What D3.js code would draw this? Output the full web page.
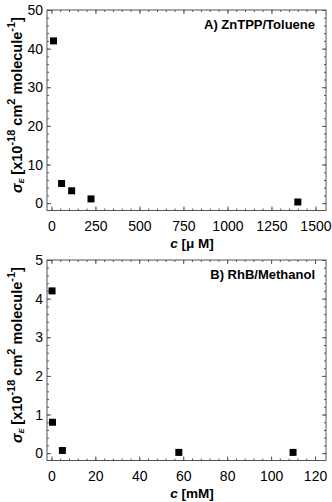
<!DOCTYPE html>
<html>
<head>
<meta charset="utf-8">
<script src="https://cdn.jsdelivr.net/npm/d3@7"></script>
<style>
  html, body { margin: 0; padding: 0; background: #fff; }
  svg text { font-family: "Liberation Sans", Arial, sans-serif; }
</style>
</head>
<body>
<svg id="chart" width="332" height="502"></svg>
<script>
// ── Data ─────────────────────────────────────────────────────────────────────
const titleA   = 'A) ZnTPP/Toluene';
const concA    = [12, 58, 115, 225, 1400];          // µM
const sigmaA   = [42, 5.1, 3.2, 1.1, 0.3];
const xTicksA  = [0, 250, 500, 750, 1000, 1250, 1500];
const yTicksA  = [0, 10, 20, 30, 40, 50];

const titleB   = 'B) RhB/Methanol';
const concB    = [0.3, 0.5, 5, 58, 110];            // mM
const sigmaB   = [4.2, 0.8, 0.07, 0.02, 0.02];
const xTicksB  = [0, 20, 40, 60, 80, 100, 120];
const yTicksB  = [0, 1, 2, 3, 4, 5];

// ── Layout ───────────────────────────────────────────────────────────────────
const svg   = d3.select('#chart');
const left  = 47, right = 326, plotH = 200.5;
const FRAME = '#555';

function drawPanel(cfg) {
  const top = cfg.top, bottom = top + plotH;
  const x = d3.scaleLinear().domain(cfg.xDomain).range([left, right]);
  const y = d3.scaleLinear().domain(cfg.yDomain).range([bottom, top]);
  const g = svg.append('g');

  // inward ticks on all four sides: major + minor
  const axes = [
    [d3.axisBottom(x), `translate(0,${bottom})`, cfg.xTicks, cfg.xMinor, 11],
    [d3.axisTop(x),    `translate(0,${top})`,    cfg.xTicks, cfg.xMinor, null],
    [d3.axisLeft(y),   `translate(${left},0)`,   cfg.yTicks, cfg.yMinor, 4],
    [d3.axisRight(y),  `translate(${right},0)`,  cfg.yTicks, cfg.yMinor, null],
  ];
  axes.forEach(([axis, tr, major, minor, pad]) => {
    g.append('g').attr('transform', tr)
      .call(axis.tickValues(minor).tickSizeInner(-2).tickSizeOuter(0).tickFormat(''))
      .call(s => s.select('.domain').remove())
      .selectAll('line').attr('stroke', FRAME);
    const ga = g.append('g').attr('transform', tr)
      .call(axis.tickValues(major).tickSizeInner(-4).tickSizeOuter(0)
        .tickPadding(pad || 0)
        .tickFormat(pad ? d3.format('d') : ''));
    ga.select('.domain').remove();
    ga.selectAll('line').attr('stroke', FRAME);
    ga.selectAll('text').attr('font-size', 14).attr('fill', '#000');
  });

  // frame
  g.append('rect')
    .attr('x', left).attr('y', top)
    .attr('width', right - left).attr('height', plotH)
    .attr('fill', 'none').attr('stroke', FRAME).attr('stroke-width', 1);

  // markers
  const sz = 7;
  g.append('g').selectAll('rect')
    .data(cfg.xs.map((v, i) => [v, cfg.ys[i]]))
    .join('rect')
      .attr('x', d => x(d[0]) - sz / 2)
      .attr('y', d => y(d[1]) - sz / 2)
      .attr('width', sz).attr('height', sz)
      .attr('fill', '#000');

  // panel title
  g.append('text')
    .attr('x', 315).attr('y', top + 19)
    .attr('text-anchor', 'end')
    .attr('font-size', 13).attr('font-weight', 'bold')
    .text(cfg.title);

  // x label
  const xl = g.append('text')
    .attr('x', 192).attr('y', bottom + 37)
    .attr('text-anchor', 'middle')
    .attr('font-size', 13.5).attr('font-weight', 'bold');
  xl.append('tspan').attr('font-style', 'italic').text('c');
  xl.append('tspan').text(' [' + cfg.unit + ']');

  // y label
  const yl = g.append('text')
    .attr('transform', `translate(22,${top + 95}) rotate(-90)`)
    .attr('text-anchor', 'middle')
    .attr('font-size', 14.5).attr('font-weight', 'bold');
  yl.append('tspan').attr('font-style', 'italic').text('σ');
  yl.append('tspan').attr('font-size', 7).attr('font-style', 'italic').attr('dy', 2).text('E');
  yl.append('tspan').attr('dy', -2).text(' [x10');
  yl.append('tspan').attr('font-size', 11).attr('dy', -7).text('-18');
  yl.append('tspan').attr('dy', 7).text(' cm');
  yl.append('tspan').attr('font-size', 11).attr('dy', -7).text('2');
  yl.append('tspan').attr('dy', 7).text('  molecule');
  yl.append('tspan').attr('font-size', 11).attr('dy', -7).text('-1');
  yl.append('tspan').attr('dy', 7).text(']');
}

drawPanel({
  top: 10, title: titleA, unit: 'μ M',
  xDomain: [-25, 1560], yDomain: [-1.9, 50],
  xTicks: xTicksA, yTicks: yTicksA,
  xMinor: d3.range(0, 1501, 50), yMinor: d3.range(0, 51, 2),
  xs: concA, ys: sigmaA,
});

drawPanel({
  top: 260, title: titleB, unit: 'mM',
  xDomain: [-2, 125], yDomain: [-0.19, 5],
  xTicks: xTicksB, yTicks: yTicksB,
  xMinor: d3.range(0, 121, 4), yMinor: d3.range(0, 5.01, 0.2),
  xs: concB, ys: sigmaB,
});
</script>
</body>
</html>
